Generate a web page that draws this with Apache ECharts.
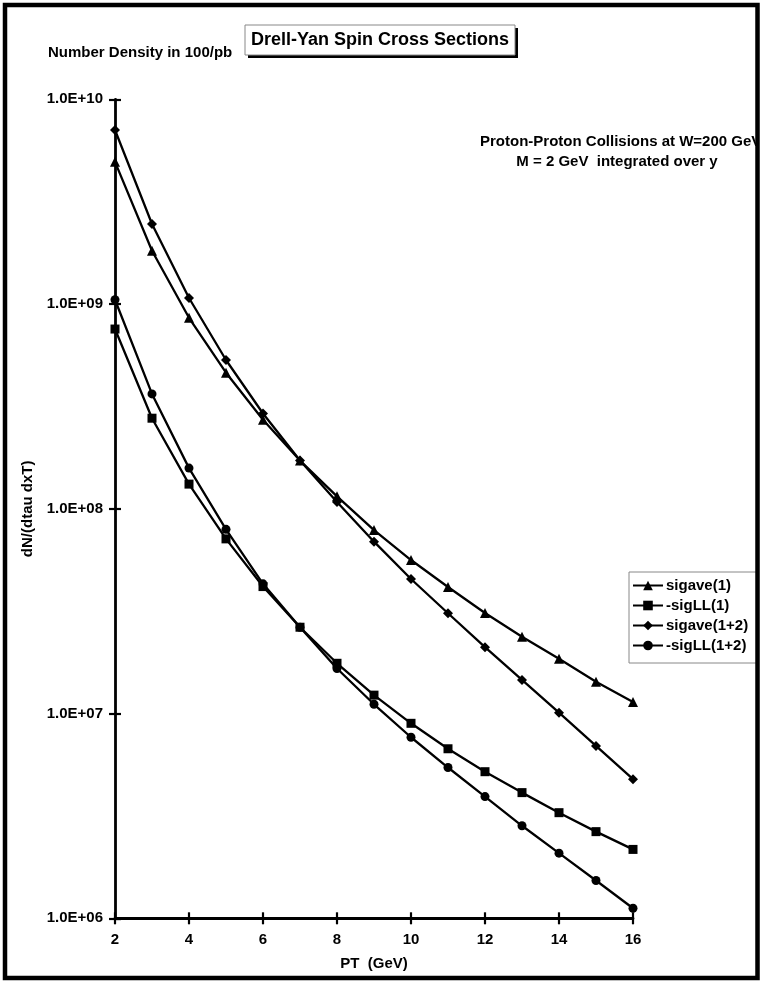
<!DOCTYPE html>
<html>
<head>
<meta charset="utf-8">
<script src="https://cdn.jsdelivr.net/npm/echarts@6/dist/echarts.min.js"></script>
<style>
html,body{margin:0;padding:0;background:#fff;}
#chart{width:763px;height:981px;}
</style>
</head>
<body>
<div id="chart"></div>
<script>
// ---- data ----
var ptValues = [2, 3, 4, 5, 6, 7, 8, 9, 10, 11, 12, 13, 14, 15, 16];
var sigave1 = [4.95e9, 1.82e9, 8.57e8, 4.62e8, 2.72e8, 1.72e8, 1.15e8, 7.87e7, 5.62e7, 4.15e7, 3.10e7, 2.37e7, 1.85e7, 1.43e7, 1.14e7];
var sigLL1 = [7.55e8, 2.77e8, 1.32e8, 7.13e7, 4.17e7, 2.64e7, 1.76e7, 1.23e7, 8.96e6, 6.73e6, 5.20e6, 4.11e6, 3.28e6, 2.65e6, 2.17e6];
var sigave12 = [7.08e9, 2.46e9, 1.07e9, 5.33e8, 2.92e8, 1.72e8, 1.08e8, 6.91e7, 4.54e7, 3.09e7, 2.11e7, 1.46e7, 1.01e7, 6.95e6, 4.78e6];
var sigLL12 = [1.05e9, 3.64e8, 1.58e8, 7.94e7, 4.30e7, 2.64e7, 1.66e7, 1.11e7, 7.66e6, 5.45e6, 3.93e6, 2.83e6, 2.08e6, 1.53e6, 1.12e6];
var seriesNames = ['sigave(1)', '-sigLL(1)', 'sigave(1+2)', '-sigLL(1+2)'];
var yTickLabels = {1e6: '1.0E+06', 1e7: '1.0E+07', 1e8: '1.0E+08', 1e9: '1.0E+09', 1e10: '1.0E+10'};
var titleText = 'Drell-Yan Spin Cross Sections';
var unitText = 'Number Density in 100/pb';
var noteLines = ['Proton-Proton Collisions at W=200 GeV', 'M = 2 GeV  integrated over y'];

function pairs(vals) {
  return ptValues.map(function (x, i) { return [x, vals[i]]; });
}

var FONT = '"Liberation Sans", Arial, Helvetica, sans-serif';
var chart = echarts.init(document.getElementById('chart'), null, {renderer: 'canvas'});

function mkSeries(name, vals, symbol, size) {
  return {
    name: name,
    type: 'line',
    data: pairs(vals),
    symbol: symbol,
    symbolSize: size,
    showAllSymbol: true,
    lineStyle: {color: '#000', width: 2.3},
    itemStyle: {color: '#000', borderWidth: 0},
    emphasis: {disabled: true},
    animation: false,
    z: 3
  };
}

var tickStyle = {color: '#000', width: 2.2};

var option = {
  animation: false,
  backgroundColor: '#fff',
  textStyle: {fontFamily: FONT},
  grid: {left: 115, right: 130, top: 99.3, bottom: 62.7, containLabel: false},
  xAxis: [{
    type: 'value',
    min: 2, max: 16, interval: 2,
    name: 'PT  (GeV)',
    nameLocation: 'middle',
    nameGap: 38,
    nameTextStyle: {color: '#000', fontWeight: 'bold', fontSize: 15, fontFamily: FONT},
    axisLine: {onZero: false, lineStyle: {color: '#000', width: 2.8}},
    axisTick: {show: true, length: 6, lineStyle: tickStyle},
    axisLabel: {color: '#000', fontWeight: 'bold', fontSize: 15, margin: 14, fontFamily: FONT},
    splitLine: {show: false}
  }, {
    type: 'value',
    position: 'bottom',
    min: 2, max: 16, interval: 2,
    axisLine: {show: false, onZero: false},
    axisTick: {show: true, inside: true, length: 6, lineStyle: tickStyle},
    axisLabel: {show: false},
    splitLine: {show: false}
  }],
  yAxis: [{
    type: 'log',
    logBase: 10,
    min: 1e6, max: 1e10,
    name: 'dN/(dtau dxT)',
    nameLocation: 'middle',
    nameGap: 77,
    nameRotate: 90,
    nameTextStyle: {color: '#000', fontWeight: 'bold', fontSize: 15, fontFamily: FONT},
    axisLine: {lineStyle: {color: '#000', width: 2.8}},
    axisTick: {show: true, length: 6, lineStyle: tickStyle},
    minorTick: {show: false},
    axisLabel: {
      color: '#000', fontWeight: 'bold', fontSize: 15, margin: 12, fontFamily: FONT,
      formatter: function (v) { return yTickLabels[v] || ''; }
    },
    splitLine: {show: false}
  }, {
    type: 'log',
    logBase: 10,
    position: 'left',
    min: 1e6, max: 1e10,
    axisLine: {show: false},
    axisTick: {show: true, inside: true, length: 6, lineStyle: tickStyle},
    axisLabel: {show: false},
    splitLine: {show: false}
  }],
  legend: {
    orient: 'vertical',
    left: 629, top: 572,
    data: seriesNames,
    itemWidth: 30, itemHeight: 12,
    itemGap: 5,
    padding: [6, 30, 10, 3],
    borderColor: '#888', borderWidth: 1,
    backgroundColor: '#fff',
    textStyle: {color: '#000', fontWeight: 'bold', fontSize: 15, fontFamily: FONT, padding: [0, 0, 0, -2]},
    selectedMode: false,
    z: 5
  },
  series: [
    mkSeries(seriesNames[0], sigave1, 'triangle', 10),
    mkSeries(seriesNames[1], sigLL1, 'rect', 9),
    mkSeries(seriesNames[2], sigave12, 'diamond', 10),
    mkSeries(seriesNames[3], sigLL12, 'circle', 9)
  ],
  graphic: [
    // title shadow + box
    {type: 'rect', shape: {x: 248, y: 28, width: 270, height: 30}, style: {fill: '#000'}, z: 10},
    {type: 'rect', shape: {x: 245, y: 25, width: 270, height: 30}, style: {fill: '#fff', stroke: '#888', lineWidth: 1}, z: 11},
    {type: 'text', x: 380, y: 40, style: {text: titleText, fill: '#000', font: 'bold 18px ' + FONT, textAlign: 'center', textVerticalAlign: 'middle'}, z: 12},
    {type: 'text', x: 48, y: 53, style: {text: unitText, fill: '#000', font: 'bold 15px ' + FONT, textAlign: 'left', textVerticalAlign: 'middle'}, z: 12},
    {type: 'text', x: 480, y: 142, style: {text: noteLines[0], fill: '#000', font: 'bold 15px ' + FONT, textAlign: 'left', textVerticalAlign: 'middle'}, z: 12},
    {type: 'text', x: 617, y: 162, style: {text: noteLines[1], fill: '#000', font: 'bold 15px ' + FONT, textAlign: 'center', textVerticalAlign: 'middle'}, z: 12},
    // white cover outside border on right
    {type: 'rect', shape: {x: 758, y: 0, width: 10, height: 981}, style: {fill: '#fff'}, z: 90},
    // outer border
    {type: 'rect', shape: {x: 5, y: 5, width: 752.5, height: 973}, style: {fill: 'none', stroke: '#000', lineWidth: 4.5}, z: 100}
  ]
};
chart.setOption(option);
</script>
</body>
</html>
